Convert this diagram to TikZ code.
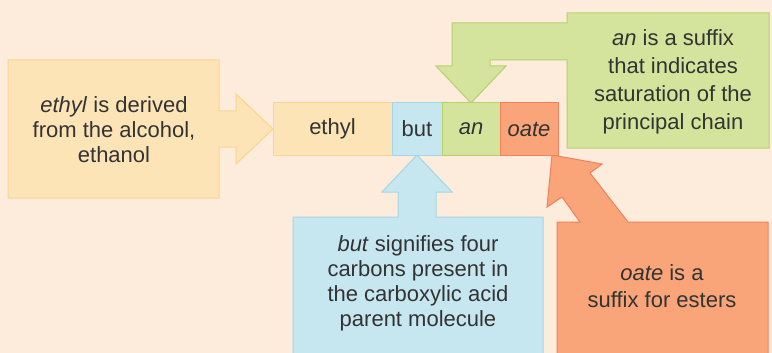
\documentclass[tikz,border=0pt]{standalone}
\usepackage{fontspec}
\setmainfont{Liberation Sans}
\usepackage{xcolor}
\usetikzlibrary{positioning,backgrounds}
\definecolor{bgpeach}{HTML}{FDEBDB}
\definecolor{textgray}{HTML}{333333}
\definecolor{ethylfill}{HTML}{FDE4B6}
\definecolor{ethylline}{HTML}{F8D592}
\definecolor{butfill}{HTML}{C6E7F0}
\definecolor{butline}{HTML}{A3D7E5}
\definecolor{anfill}{HTML}{D4E49C}
\definecolor{anline}{HTML}{B6D16C}
\definecolor{oatefill}{HTML}{F9A579}
\definecolor{oateline}{HTML}{F2805A}

\begin{document}
\begin{tikzpicture}[
    x=1pt, y=-1pt,
    every node/.style={font=\fontsize{22}{25}\selectfont, text=textgray},
    part/.style={rectangle, minimum height=52pt, inner sep=0pt, outer sep=0pt, line width=1pt},
    callout/.style={line width=1pt, line join=miter},
    note/.style={align=center, inner sep=0pt}
]
\useasboundingbox (0,0) rectangle (772,353);

% Name row
\node[part, fill=ethylfill, draw=ethylline, minimum width=119pt] (ethyl) at (332.5,129) {ethyl};
\node[part, fill=butfill, draw=butline, minimum width=50pt, right=0pt of ethyl] (but) {but};
\node[part, fill=anfill, draw=anline, minimum width=58pt, right=0pt of but] (an) {\textit{an}};
\node[part, fill=oatefill, draw=oateline, minimum width=58pt, right=0pt of an] (oate) {\textit{oate}};

% Notes
\node[note] (ethylnote) at (114,130) {\textit{ethyl} is derived\\from the alcohol,\\ethanol};
\node[note, font=\fontsize{22}{28}\selectfont] (annote) at (673,82) {\textit{an} is a suffix\\that indicates\\saturation of the\\principal chain};
\node[note] (butnote) at (418,283) {\textit{but} signifies four\\carbons present in\\the carboxylic acid\\parent molecule};
\node[note, font=\fontsize{22}{27}\selectfont] (oatenote) at (662,286) {\textit{oate} is a\\suffix for esters};

% Callouts behind
\begin{scope}[on background layer]
\fill[bgpeach] (0,0) rectangle (772,353);
\clip (0,0) rectangle (772,353);
\draw[callout, fill=ethylfill, draw=ethylline] (8,60) -- (219,60) -- (219,111) -- (236,111) -- (236,94)
    -- (ethyl.west) -- (236,164) -- (236,147) -- (219,147) -- (219,198) -- (8,198) -- cycle;
\draw[callout, fill=anfill, draw=anline] (769,13) -- (567,13) -- (567,23) -- (452,23) -- (452,66) -- (436,66)
    -- (an.north) -- (506,66) -- (490,66) -- (490,60) -- (567,60) -- (567,148) -- (769,148) -- cycle;
\draw[callout, fill=butfill, draw=butline] (293,360) -- (293,217) -- (398,217) -- (398,192) -- (382,192)
    -- (but.south) -- (452,192) -- (436,192) -- (436,217) -- (543,217) -- (543,360) -- cycle;
\draw[callout, fill=oatefill, draw=oateline] (557,360) -- (557,222) -- (580,222) -- (562,197) -- (547,207)
    -- ([xshift=-6pt]oate.south east) -- (602,164) -- (590,173) -- (628,222) -- (768,222) -- (768,360) -- cycle;
\end{scope}

\end{tikzpicture}
\end{document}
